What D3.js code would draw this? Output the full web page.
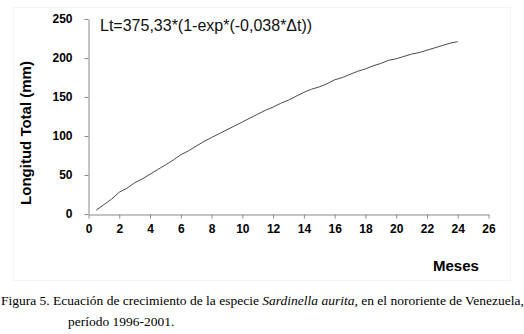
<!DOCTYPE html>
<html>
<head>
<meta charset="utf-8">
<script src="https://cdn.jsdelivr.net/npm/d3@7"></script>
<style>
  html, body { margin: 0; padding: 0; background: #fff; }
  svg { display: block; }
</style>
</head>
<body>
<svg id="chart" width="524" height="334"></svg>
<script>
// Data
const months = [0.5,1,1.5,2,2.5,3,3.5,4,4.5,5,5.5,6,6.5,7,7.5,8,8.5,9,9.5,10,10.5,11,11.5,12,
  12.5,13,13.5,14,14.5,15,15.5,16,16.5,17,17.5,18,18.5,19,19.5,20,20.5,21,21.5,22,22.5,23,23.5,24];
const lengths = [5,12,19,28,33,40,45,51,57,63,69,76,81,87,93,98,103,108,113,118,123,128,133,137,
  142,146,151,156,160,163,167,172,175,179,183,186,190,193,197,199,202,205,207,210,213,216,219,221];
const xTicks = [0,2,4,6,8,10,12,14,16,18,20,22,24,26];
const yTicks = [0,50,100,150,200,250];
const equation = "Lt=375,33*(1-exp*(-0,038*\u0394t))";
const xTitle = "Meses";
const yTitle = "Longitud Total (mm)";

const svg = d3.select("#chart");
const plotLeft = 88.5, plotRight = 488.5, plotTop = 19, plotBottom = 214;

// faint frame
svg.append("rect").attr("x", 13.5).attr("y", 7.5).attr("width", 497).attr("height", 273)
  .attr("fill", "none").attr("stroke", "#f4f4f4");

const x = d3.scaleLinear().domain([0, 26]).range([plotLeft, plotRight]);
const y = d3.scaleLinear().domain([0, 250]).range([plotBottom, plotTop]);

const axisColor = "#8a8a8a";

const gx = svg.append("g").attr("transform", `translate(0,${plotBottom + 0.5})`)
  .call(d3.axisBottom(x).tickValues(xTicks).tickSize(4).tickPadding(6).tickSizeOuter(0));
const gy = svg.append("g").attr("transform", `translate(${plotLeft},0)`)
  .call(d3.axisLeft(y).tickValues(yTicks).tickSize(4).tickPadding(12).tickSizeOuter(0));

[gx, gy].forEach(g => {
  g.select(".domain").attr("stroke", axisColor);
  g.selectAll(".tick line").attr("stroke", axisColor);
  g.selectAll(".tick text").attr("fill", "#000")
    .style("font-family", "'Liberation Sans', Arial, sans-serif")
    .style("font-size", "12px").style("font-weight", "bold");
});

const line = d3.line().x((d, i) => x(months[i])).y(d => y(d));
svg.append("path").datum(lengths).attr("d", line)
  .attr("fill", "none").attr("stroke", "#4a4a4a").attr("stroke-width", 1);

svg.append("text").attr("x", 100).attr("y", 31)
  .style("font-family", "'Liberation Sans', Arial, sans-serif").style("font-size", "16px")
  .attr("fill", "#111").text(equation);

svg.append("text").attr("x", 433).attr("y", 271)
  .style("font-family", "'Liberation Sans', Arial, sans-serif").style("font-size", "15px")
  .style("font-weight", "bold").attr("fill", "#000").text(xTitle);

svg.append("text").attr("transform", "translate(31,133) rotate(-90)").attr("text-anchor", "middle")
  .style("font-family", "'Liberation Sans', Arial, sans-serif").style("font-size", "15px")
  .style("font-weight", "bold").attr("fill", "#000").text(yTitle);

const cap = svg.append("text").attr("x", 1).attr("y", 305)
  .style("font-family", "'Liberation Serif', 'Times New Roman', serif").style("font-size", "13.5px")
  .attr("fill", "#000");
cap.append("tspan").text("Figura 5. Ecuación de crecimiento de la especie ");
cap.append("tspan").style("font-style", "italic").text("Sardinella aurita");
cap.append("tspan").text(", en el nororiente de Venezuela,");

svg.append("text").attr("x", 68).attr("y", 326)
  .style("font-family", "'Liberation Serif', 'Times New Roman', serif").style("font-size", "13.5px")
  .attr("fill", "#000").text("período 1996-2001.");
</script>
</body>
</html>
